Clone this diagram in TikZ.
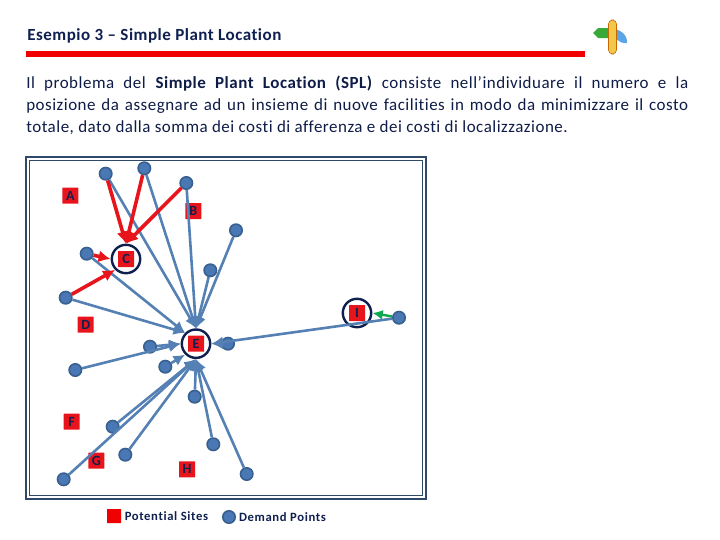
\documentclass[tikz,border=0pt]{standalone}
\usepackage{fontspec}
\setmainfont[Ligatures=NoCommon,LetterSpace=3]{Carlito}
\newfontfamily\legendfont[Ligatures=NoCommon,LetterSpace=5]{Carlito}
\usetikzlibrary{arrows.meta,positioning}
\definecolor{spRed}{HTML}{E8141C}
\definecolor{spBar}{HTML}{F00000}
\definecolor{spNavy}{HTML}{0F1F4F}
\definecolor{spFrame}{HTML}{2F4A68}
\definecolor{spBlue}{HTML}{5580B4}
\definecolor{spDem}{HTML}{4A78B4}
\definecolor{spDemLine}{HTML}{38608F}
\definecolor{spGreen}{HTML}{10A850}
\definecolor{spSign}{HTML}{38A838}
\definecolor{spLeaf}{HTML}{5AA5E6}
\definecolor{spPole}{HTML}{F2C84B}
\begin{document}
\begin{tikzpicture}[x=0.25mm,y=-0.25mm,font=\fontsize{12.07pt}{15.6pt}\selectfont,
  dem/.style={circle,draw=spDemLine,fill=spDem,line width=0.4mm,minimum size=3.1mm,inner sep=0pt},
  site/.style={fill=spRed,rounded corners=0.3pt,minimum size=4mm,inner sep=0pt,text=spNavy,font=\fontsize{10pt}{10pt}\selectfont\bfseries},
  ring/.style={circle,draw=spNavy,line width=0.6mm,minimum size=7.1mm,inner sep=0pt},
  tob/.style={-{Latex[length=2.9mm,width=2.8mm]},spBlue,line width=0.65mm},
  tor/.style={-{Latex[length=3mm,width=3mm]},spRed,line width=0.9mm},
  tog/.style={-{Latex[length=2.6mm,width=2.5mm]},spGreen,line width=0.6mm},
  lg/.style={font=\fontsize{9pt}{9pt}\legendfont\bfseries,text=spNavy,inner sep=0pt}]
  \useasboundingbox (0,0) rectangle (720,540);
  \node[anchor=west,inner sep=0pt,font=\fontsize{12.1pt}{13pt}\selectfont\bfseries,text=spNavy] (title) at (27,36) {Esempio 3 – Simple Plant Location};
  \fill[spBar] (26,50.5) rectangle (585,56.5);
  \fill[spSign] (609,28) -- (598,28) -- (593,33) -- (598,38) -- (609,38) -- cycle;
  \fill[spLeaf] (614,29) .. controls (623,30) and (628,38) .. (627,43) .. controls (619,44) and (613,38) .. cycle;
  \fill[spPole,draw=orange!80!black,line width=0.15mm,rounded corners=1mm] (608.5,20) rectangle (616.5,54);
  \node[anchor=north west,inner sep=0pt,text width=165.5mm,align=justify,text=spNavy!90!black] (body) at (26,76) {Il problema del \textbf{Simple Plant Location (SPL)} consiste nell’individuare il numero e la\linebreak posizione da assegnare ad un insieme di nuove facilities in modo da minimizzare il costo\linebreak totale, dato dalla somma dei costi di afferenza e dei costi di localizzazione.};
  \draw[spFrame,line width=0.45mm] (26,157) rectangle (426,499);
  \draw[spFrame,line width=0.2mm] (29.5,160) rectangle (422.5,495.5);
  \node[site] (A) at (70.3,195.7) {A};
  \node[site] (B) at (193.3,211) {B};
  \node[site] (C) at (126,259) {C};
  \node[site] (D) at (85.7,324.7) {D};
  \node[site] (E) at (196,343.7) {E};
  \node[site] (F) at (71.7,421.7) {F};
  \node[site] (G) at (96.3,460.7) {G};
  \node[site] (H) at (187,469.3) {H};
  \node[site] (I) at (357,313) {I};
  \node[ring] (ringC) at (C) {};
  \node[ring] (ringE) at (E) {};
  \node[ring] (ringI) at (I) {};
  \node[dem] (p1) at (105.7,173.7) {};
  \node[dem] (p2) at (144.3,168.3) {};
  \node[dem] (p3) at (186.3,183) {};
  \node[dem] (p4) at (236,230.3) {};
  \node[dem] (p5) at (210.3,270.3) {};
  \node[dem] (p6) at (86.7,253.7) {};
  \node[dem] (p7) at (65.7,297.7) {};
  \node[dem] (p8) at (399,317.7) {};
  \node[dem] (p9) at (228,343.7) {};
  \node[dem] (p10) at (150,346.7) {};
  \node[dem] (p11) at (165.3,366.7) {};
  \node[dem] (p12) at (75.3,370) {};
  \node[dem] (p13) at (194.7,396.7) {};
  \node[dem] (p14) at (112.7,426.7) {};
  \node[dem] (p15) at (125.3,454.7) {};
  \node[dem] (p16) at (63.7,479.3) {};
  \node[dem] (p17) at (213.3,444.3) {};
  \node[dem] (p18) at (246.7,474) {};
  \draw[tob] (p1) -- (ringE.north);
  \draw[tob] (p2) -- (ringE.north);
  \draw[tob] (p3) -- (ringE.north);
  \draw[tob] (p4) -- (ringE.north);
  \draw[tob] (p5) -- (ringE.north);
  \draw[tob] (p6) -- (ringE.north west);
  \draw[tob] (p7) -- (ringE.north west);
  \draw[tob] (p8) -- (ringE.east);
  \draw[tob] (p9) -- (ringE.east);
  \draw[tob] (p10) -- (ringE.west);
  \draw[tob] (p11) -- (ringE.south west);
  \draw[tob] (p12) -- (ringE.west);
  \draw[tob] (p13) -- (ringE.south);
  \draw[tob] (p14) -- (ringE.south);
  \draw[tob] (p15) -- (ringE.south);
  \draw[tob] (p16) -- (ringE.south);
  \draw[tob] (p17) -- (ringE.south);
  \draw[tob] (p18) -- (ringE.south);
  \draw[tor] (p1) -- (ringC.north);
  \draw[tor] (p2) -- (ringC.north);
  \draw[tor] (p3) -- (ringC.north);
  \draw[tor] (p6) -- (ringC.west);
  \draw[tor] (p7) -- (ringC.south west);
  \draw[tog] (p8) -- (ringI.east);
  \node[site,fill=spBar,minimum size=3.5mm] (keysite) at (114,516) {};
  \node[lg,right=0.8mm of keysite] (keysitetxt) {Potential Sites};
  \node[dem] (keydem) at (229,517) {};
  \node[lg,right=0.7mm of keydem] (keydemtxt) {Demand Points};
\end{tikzpicture}
\end{document}
